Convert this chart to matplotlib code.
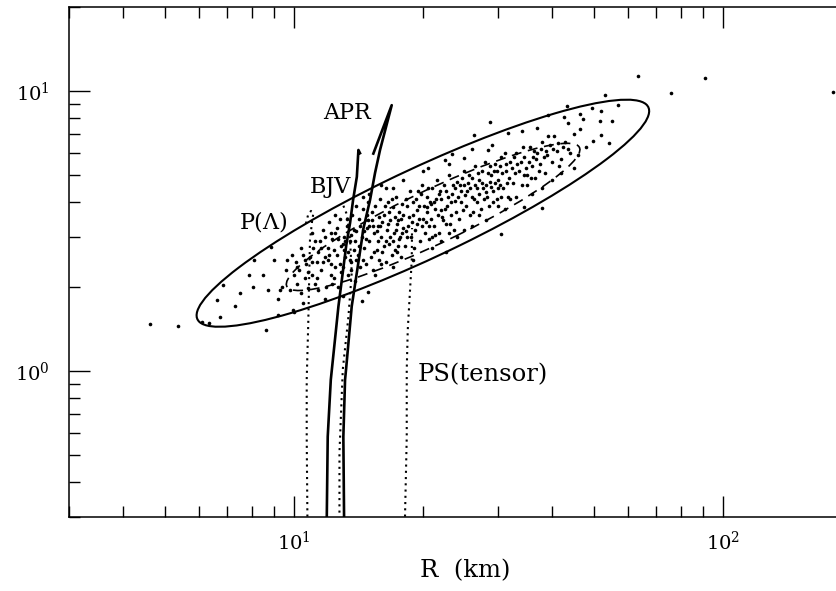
import numpy as np
import matplotlib.pyplot as plt
from matplotlib.patches import Ellipse
from matplotlib.ticker import LogLocator, NullFormatter

plt.rcParams['font.family'] = 'DejaVu Serif'
plt.rcParams['mathtext.fontset'] = 'dejavuserif'

# mass-radius curves (R in km, M)
apr_R = [13.10, 13.05, 13.17, 13.24, 13.65, 14.41, 14.51, 15.06, 15.47, 15.89, 16.92, 15.33]
apr_M = [0.301, 0.581, 0.929, 1.01, 1.70, 2.94, 3.19, 4.08, 5.10, 6.16, 8.91, 5.98]

bjv_R = [11.94, 12.00, 12.20, 12.71, 13.26, 13.53, 13.75, 14.03, 14.15, 14.27]
bjv_M = [0.301, 0.581, 0.929, 1.70, 2.82, 3.38, 4.08, 4.94, 6.16, 6.00]

plam_R = [10.76, 10.72, 10.72, 10.81, 10.86, 10.91, 11.03, 11.11, 10.97, 10.80, 10.63]
plam_M = [0.301, 0.581, 0.929, 1.48, 2.11, 2.94, 3.41, 3.66, 3.73, 3.61, 3.27]

mid_R = [12.78, 12.78, 13.01, 13.41, 13.65, 13.53, 13.31, 13.03]
mid_M = [0.311, 0.509, 1.01, 1.56, 2.24, 2.94, 3.61, 3.92]

ps_R = [18.17, 18.34, 18.34, 18.44, 18.67, 18.84, 18.87]
ps_M = [0.301, 0.581, 1.01, 1.40, 1.95, 2.49, 3.24]

# confidence ellipses in log10 space: centre (R, M), axes in decades, angle
outer_center = (20.0, 3.66)
outer_size = (1.30, 0.2875)
outer_angle = 36.8
inner_center = (21.13, 3.55)
inner_size = (0.846, 0.173)
inner_angle = 36.9

# simulated points (R, M)
dots_dense = [
    (9.4, 2.0), (9.6, 2.3), (9.8, 1.95), (10.0, 2.2), (10.1, 2.45), (10.2, 2.05), (10.3, 2.3), (10.4, 1.9),
    (10.5, 2.6), (10.6, 2.15), (10.7, 2.4), (10.8, 1.98), (10.9, 2.55), (11.0, 2.2), (11.1, 2.75), (11.2, 2.05),
    (9.9, 2.6), (10.4, 2.75), (11.3, 2.45), (11.4, 1.95),
    (11.5, 2.9), (11.6, 2.3), (11.7, 3.2), (11.8, 2.55), (11.9, 2.0), (12.0, 2.75), (12.1, 3.4), (12.2, 2.4),
    (12.3, 2.95), (12.4, 2.15), (12.5, 3.1), (12.6, 2.6), (12.7, 2.0), (12.8, 3.5), (12.9, 2.8), (13.0, 2.35),
    (13.1, 3.0), (13.2, 2.55), (13.3, 3.3), (13.4, 2.2), (13.5, 2.9), (13.6, 2.45), (13.7, 3.6), (13.8, 2.7),
    (13.9, 2.1), (14.0, 3.15), (11.4, 2.65), (11.8, 3.0), (12.2, 2.2), (12.6, 3.25), (13.0, 2.85), (13.4, 2.65),
    (13.8, 3.2), (12.0, 2.5), (12.4, 2.7), (12.9, 2.25), (13.3, 3.5), (13.6, 2.3), (11.6, 2.75), (12.7, 2.95),
    (14.1, 2.6), (14.2, 3.5), (14.3, 2.35), (14.4, 3.0), (14.5, 3.8), (14.6, 2.75), (14.7, 2.4), (14.8, 3.25),
    (14.9, 4.0), (15.0, 2.9), (15.1, 2.55), (15.2, 3.45), (15.3, 2.3), (15.4, 3.1), (15.5, 3.9), (15.6, 2.7),
    (15.7, 3.3), (15.8, 2.5), (15.9, 4.1), (16.0, 3.0), (16.1, 2.65), (16.2, 3.6), (16.4, 2.45), (16.5, 3.2),
    (16.6, 4.0), (16.7, 2.85), (16.8, 3.45), (16.9, 2.6), (17.0, 3.85), (17.1, 3.1), (17.2, 2.7), (17.3, 4.2),
    (17.4, 3.35), (17.5, 2.8), (17.6, 3.7), (17.7, 3.0), (17.8, 2.55), (17.9, 3.95), (18.0, 3.25), (14.3, 3.3),
    (14.7, 2.95), (15.2, 3.7), (15.6, 3.15), (16.0, 2.4), (16.3, 3.9), (16.8, 3.0), (17.2, 3.55), (17.6, 2.95),
    (14.0, 2.5), (14.9, 3.45), (15.4, 2.65), (15.9, 3.3), (16.4, 2.9), (16.9, 4.1), (17.4, 2.65), (18.0, 3.6),
    (18.2, 2.8), (18.4, 3.9), (18.5, 3.3), (18.7, 4.4), (18.8, 3.0), (19.0, 3.6), (19.1, 2.75), (19.3, 4.1),
    (19.4, 3.35), (19.6, 3.9), (19.7, 2.9), (19.9, 4.6), (20.0, 3.5), (20.2, 3.1), (20.4, 4.2), (20.5, 3.7),
    (20.7, 2.95), (20.9, 3.95), (21.0, 4.5), (21.2, 3.3), (21.4, 3.8), (21.6, 4.8), (21.8, 3.1), (22.0, 4.1),
    (22.2, 3.55), (22.4, 4.6), (22.6, 3.35), (22.8, 3.9), (23.0, 5.0), (23.2, 3.6), (23.4, 4.3), (23.6, 3.2),
    (23.8, 4.05), (24.0, 4.75), (18.6, 3.55), (19.2, 3.2), (19.8, 4.3), (20.3, 3.4), (20.8, 4.0), (21.3, 3.05),
    (21.9, 4.4), (22.5, 3.8), (23.1, 3.35), (23.7, 4.5), (18.3, 3.15), (19.5, 4.4), (20.6, 4.5), (21.7, 3.6),
    (22.9, 4.2),
    (24.3, 3.5), (24.6, 4.4), (24.9, 5.2), (25.2, 3.9), (25.5, 4.7), (25.8, 3.6), (26.1, 4.2), (26.4, 5.4),
    (26.7, 4.0), (27.0, 4.8), (27.3, 3.8), (27.6, 4.5), (27.9, 5.6), (28.2, 4.2), (28.5, 3.9), (28.8, 5.0),
    (29.1, 4.4), (29.4, 5.5), (29.7, 4.1), (30.0, 4.8), (30.4, 5.8), (30.8, 4.5), (31.2, 5.2), (31.6, 4.2),
    (32.0, 5.6), (24.5, 4.0), (25.0, 4.6), (25.6, 5.0), (26.2, 3.7), (26.8, 4.5), (27.4, 5.2), (28.0, 4.6),
    (28.6, 5.4), (29.2, 4.0), (29.8, 5.2), (30.5, 4.2), (31.0, 6.0), (31.8, 4.9), (24.8, 3.75), (26.0, 4.9),
    (27.1, 4.3), (28.3, 5.1), (29.5, 4.7), (30.2, 5.4), (31.4, 4.7),
    (32.5, 4.7), (33.0, 6.0), (33.5, 5.2), (34.0, 4.6), (34.5, 5.8), (35.0, 5.0), (35.5, 6.3), (36.0, 5.4),
    (36.5, 4.9), (37.0, 6.0), (37.5, 5.5), (38.0, 6.6), (38.5, 5.1), (39.0, 5.9), (39.5, 6.4), (40.0, 5.6),
    (40.5, 6.9), (41.0, 6.1), (42.0, 5.7), (43.0, 6.6), (44.0, 6.0), (45.0, 7.0), (33.2, 5.5), (34.2, 6.3),
    (35.3, 5.6), (36.3, 6.1), (37.3, 5.2), (38.3, 5.8), (39.2, 6.9), (40.2, 6.2), (41.5, 5.4), (42.5, 6.3),
    (32.8, 5.1), (35.8, 4.9), (37.8, 6.2),
]
dots_dense_2 = [
    (10.2, 2.35), (10.6, 2.5), (11.0, 2.45), (11.3, 2.15), (11.7, 2.45), (12.1, 2.6), (12.3, 2.05), (12.8, 2.4),
    (13.2, 2.9), (13.5, 2.5), (13.9, 2.9), (11.2, 2.9), (10.8, 2.25), (12.5, 2.35), (13.1, 2.7), (14.2, 2.8),
    (14.5, 2.5), (14.8, 3.6), (15.3, 3.3), (15.8, 3.55), (16.2, 2.8), (16.6, 3.35), (17.0, 2.9), (17.5, 3.45),
    (17.9, 3.1), (18.3, 4.1), (18.9, 3.4), (19.4, 3.75), (19.9, 3.3), (20.4, 3.85), (20.9, 3.5), (21.5, 4.1),
    (22.1, 3.75), (22.7, 4.4), (23.3, 4.0), (23.9, 3.7), (24.4, 4.6), (25.1, 4.25), (25.7, 4.5), (26.3, 4.1),
    (26.9, 5.1), (27.5, 4.7), (28.1, 4.35), (28.7, 4.75), (29.3, 5.2), (29.9, 4.5), (30.6, 5.1), (31.3, 5.5),
    (32.2, 5.3), (33.8, 5.6), (34.8, 5.3), (36.8, 5.7), (38.8, 6.1), (41.2, 6.5), (43.5, 6.2), (12.2, 3.1),
    (13.6, 3.05), (14.6, 3.15), (15.0, 3.3), (15.7, 2.9), (16.1, 3.4), (16.7, 3.7), (17.3, 3.2), (17.8, 3.5),
    (18.4, 3.0), (19.0, 4.0), (19.6, 3.5), (20.1, 3.9), (20.7, 3.3), (21.2, 4.0), (21.8, 4.3), (22.3, 3.45),
    (23.5, 4.6), (24.1, 4.2), (24.7, 4.9), (25.3, 4.4), (26.5, 4.6), (27.7, 4.1), (28.9, 4.55), (30.3, 4.6),
    (32.6, 5.8), (34.4, 5.0), (36.2, 5.8),
    (25.0, 3.2), (27.0, 3.6), (30.0, 3.9), (32.0, 4.1), (35.0, 4.6), (21.0, 3.0), (23.0, 3.1), (14.0, 3.9),
    (15.0, 4.3), (17.0, 4.5),
]
dots_outer = [
    (4.61, 1.47), (5.37, 1.45), (6.10, 1.50), (6.36, 1.48), (6.73, 1.555), (6.64, 1.79), (6.85, 2.03),
    (7.30, 1.70), (7.88, 2.20), (8.03, 2.00), (8.08, 2.49), (8.62, 1.40), (8.70, 1.94), (8.84, 2.78),
    (9.21, 1.585), (9.29, 1.94), (9.63, 2.49), (9.98, 1.65), (10.0, 1.62), (9.19, 1.80),
    (63.6, 11.34), (91.1, 11.15), (75.9, 9.84), (181.0, 9.9), (53.1, 9.67), (56.9, 8.91), (43.3, 8.82),
    (49.5, 8.68), (52.1, 8.48), (46.5, 8.28), (39.2, 8.22), (42.7, 8.09), (47.3, 7.94), (51.8, 7.80),
    (55.1, 7.80), (28.6, 7.75), (43.6, 7.67), (46.5, 7.31), (26.3, 6.96), (31.6, 7.06), (49.9, 6.61),
    (52.0, 6.95), (54.3, 6.51), (23.4, 5.94), (24.9, 5.78), (28.4, 6.16), (22.5, 5.67), (20.6, 5.30),
    (45.1, 5.30), (38.0, 3.82), (34.5, 3.86), (30.5, 3.09), (22.6, 2.65), (14.93, 1.92), (14.41, 1.77),
    (16.39, 4.49),
    (13.0, 1.85), (15.5, 2.2), (17.0, 2.35), (19.0, 2.5), (21.0, 2.75), (24.0, 3.0), (26.0, 3.3), (28.0, 3.45),
    (33.0, 4.2), (36.0, 4.3), (40.0, 4.8), (11.0, 3.1), (12.5, 3.6), (14.5, 4.2), (16.0, 4.6), (18.0, 4.8),
    (20.0, 5.2), (23.0, 5.5), (26.0, 6.2), (29.0, 6.4), (34.0, 7.2), (37.0, 7.4), (9.0, 2.5), (8.5, 2.2),
    (7.5, 1.9), (22.0, 2.9), (31.0, 3.8), (38.0, 4.5), (42.0, 5.1), (46.0, 5.9), (48.0, 6.3), (11.8, 1.8),
    (10.5, 1.75),
]

fig = plt.figure(figsize=(8.37, 5.91), dpi=100)
ax = fig.add_axes([0.083, 0.1252, 0.917, 0.863])
ax.set_xscale('log')
ax.set_yscale('log')
ax.set_xlim(3.0, 184.7)
ax.set_ylim(0.30, 20)

log_space = ax.transLimits + ax.transAxes
ax.add_patch(Ellipse((np.log10(outer_center[0]), np.log10(outer_center[1])), outer_size[0], outer_size[1],
                     angle=outer_angle, fill=False, ec='k', lw=1.5, transform=log_space))
ax.add_patch(Ellipse((np.log10(inner_center[0]), np.log10(inner_center[1])), inner_size[0], inner_size[1],
                     angle=inner_angle, fill=False, ec='k', lw=1.2, ls=(0, (6, 4)), transform=log_space))

dr, dm = zip(*(dots_dense + dots_dense_2 + dots_outer))
ax.plot(dr, dm, 'o', color='k', ms=2.6, mew=0)

ax.plot(apr_R, apr_M, color='k', lw=1.9)
ax.plot(bjv_R, bjv_M, color='k', lw=1.9)
dotted = (0, (1, 2))
ax.plot(plam_R, plam_M, color='k', lw=1.5, ls=dotted)
ax.plot(mid_R, mid_M, color='k', lw=1.5, ls=dotted)
ax.plot(ps_R, ps_M, color='k', lw=1.5, ls=dotted)

ax.text(13.31, 8.35, 'APR', fontsize=16, ha='center', va='center')
ax.text(12.2, 4.54, 'BJV', fontsize=16, ha='center', va='center')
ax.text(8.48, 3.43, r'P($\Lambda$)', fontsize=16, ha='center', va='center')
ax.text(27.6, 0.968, 'PS(tensor)', fontsize=17.5, ha='center', va='center')

ax.set_xlabel('R  (km)', fontsize=17.5)
ax.xaxis.set_label_coords(0.515, -0.082)

for axis in (ax.xaxis, ax.yaxis):
    axis.set_minor_locator(LogLocator(subs=range(2, 10)))
    axis.set_minor_formatter(NullFormatter())
ax.tick_params(which='both', direction='in', top=True, right=False, width=1.0, labelsize=14)
ax.tick_params(which='major', length=15, pad=10)
ax.tick_params(axis='y', which='major', pad=14)
ax.tick_params(which='minor', length=8)
ax.spines['right'].set_visible(False)
for s in ('left', 'top', 'bottom'):
    ax.spines[s].set_linewidth(1.1)

fig.savefig('out.png', dpi=100)
